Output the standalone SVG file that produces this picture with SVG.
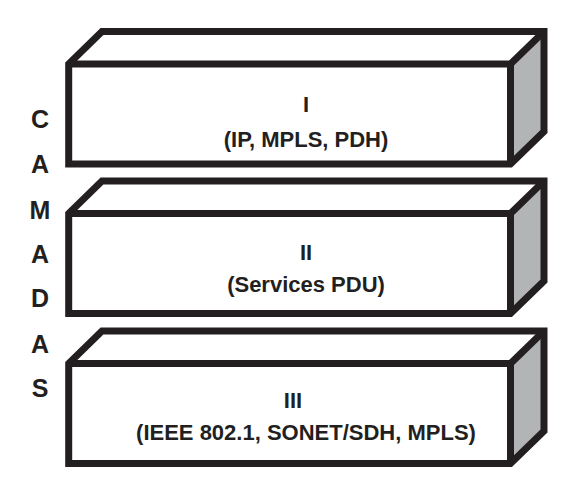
<svg xmlns="http://www.w3.org/2000/svg" width="576" height="492" viewBox="0 0 576 492">
<style>
.edge{fill:none;stroke:#231f20;stroke-width:7;stroke-linejoin:miter;stroke-miterlimit:10}
.face{fill:#ffffff}
.side{fill:#b3b4b6}
.lbl{font-family:"Liberation Sans",Arial,sans-serif;font-weight:bold;font-size:22px;fill:#231f20;text-anchor:middle}
.side-lbl{font-family:"Liberation Sans",Arial,sans-serif;font-weight:bold;font-size:25px;fill:#231f20;text-anchor:middle}
</style>
<defs>
<g id="block">
<path class="face" d="M68.7,164 L68.7,64 L102,31.5 L544,31.5 L544,131.5 L510.5,164 Z"/>
<path class="side" d="M510.5,64 L544,31.5 L544,131.5 L510.5,164 Z"/>
<path class="edge" d="M68.7,64 L510.5,64 L544,31.5 M510.5,64 L510.5,164"/>
<path class="edge" d="M68.7,164 L68.7,64 L102,31.5 L544,31.5 L544,131.5 L510.5,164 Z"/>
</g>
</defs>
<rect width="576" height="492" fill="#ffffff"/>
<g id="layer1">
<use href="#block"/>
<text class="lbl" x="306" y="111.5">I</text>
<text class="lbl" x="306" y="147">(IP, MPLS, PDH)</text>
</g>
<g id="layer2">
<use href="#block" transform="translate(0,149.5)"/>
<text class="lbl" x="306" y="259.5">II</text>
<text class="lbl" x="306" y="292">(Services PDU)</text>
</g>
<g id="layer3">
<use href="#block" transform="translate(0,299.5)"/>
<text class="lbl" x="293" y="408">III</text>
<text class="lbl" x="306" y="440">(IEEE 802.1, SONET/SDH, MPLS)</text>
</g>
<g id="camadas">
<text class="side-lbl" x="40" y="128">C</text>
<text class="side-lbl" x="40" y="173">A</text>
<text class="side-lbl" x="40" y="219">M</text>
<text class="side-lbl" x="40" y="263">A</text>
<text class="side-lbl" x="40" y="307">D</text>
<text class="side-lbl" x="40" y="353">A</text>
<text class="side-lbl" x="40" y="397">S</text>
</g>
<g id="connectors"></g>
</svg>
